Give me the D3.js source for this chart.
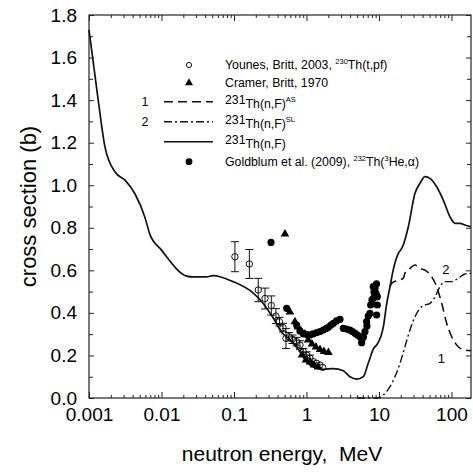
<!DOCTYPE html>
<html>
<head>
<meta charset="utf-8">
<script src="https://cdn.jsdelivr.net/npm/d3@7"></script>
<style>
body { margin: 0; background: #fff; }
text { font-family: Helvetica, Arial, "Liberation Sans", sans-serif; fill: #000; }
</style>
</head>
<body>
<div id="chart"></div>
<script>
var margin = {top: 15, right: 2, bottom: 77, left: 89}
var width = 473 - margin.left - margin.right
var height = 475 - margin.top - margin.bottom

// 231Th(n,F) total
var totalE  = [0.001, 0.00134, 0.00166, 0.00229, 0.00314, 0.0043, 0.0059, 0.0069, 0.01, 0.0223, 0.0272, 0.042, 0.051, 0.097, 0.183, 0.245, 0.36, 0.45, 0.59, 0.81, 1.12, 1.71, 2.34, 3.22, 3.98, 4.92, 6.07, 7.11, 8.5, 9.3, 11.5, 12.8, 14.2, 15.7, 18.5, 20.6, 21.6, 25.4, 31.4, 36.8, 43.1, 50.5, 62.5, 77.1, 95.3, 112, 131, 153, 186]
var totalXS = [1.73, 1.40, 1.18, 1.062, 1.024, 0.96, 0.85, 0.77, 0.695, 0.573, 0.569, 0.569, 0.575, 0.547, 0.494, 0.45, 0.367, 0.31, 0.275, 0.218, 0.155, 0.135, 0.138, 0.128, 0.10, 0.089, 0.10, 0.163, 0.235, 0.249, 0.335, 0.445, 0.523, 0.601, 0.680, 0.703, 0.719, 0.805, 0.962, 1.009, 1.040, 1.032, 0.993, 0.930, 0.852, 0.821, 0.821, 0.813, 0.805]

// 231Th(n,F)^AS
var asE  = [14.2, 15.0, 17.5, 21.6, 22.8, 25.4, 31.4, 36.8, 43.1, 53.3, 62.5, 73.3, 85.9, 100.7, 124, 153, 186]
var asXS = [0.523, 0.539, 0.551, 0.5625, 0.586, 0.601, 0.625, 0.609, 0.601, 0.570, 0.523, 0.445, 0.351, 0.288, 0.241, 0.2256, 0.222]

// 231Th(n,F)^SL
var slE  = [5.0, 9.8, 12.1, 14.2, 16.6, 19.5, 22.8, 26.8, 31.4, 36.8, 43.1, 50.5, 59.2, 69.3, 81.3, 100.7, 124, 153, 186]
var slXS = [0, 0, 0.022, 0.053, 0.10, 0.163, 0.241, 0.320, 0.382, 0.4215, 0.437, 0.445, 0.476, 0.523, 0.547, 0.547, 0.5625, 0.583, 0.586]

// Younes, Britt 2003
var younesE   = [0.103, 0.163, 0.216, 0.268, 0.327, 0.379, 0.424, 0.474, 0.521, 0.574, 0.641, 0.728, 0.813, 0.903, 1.007, 1.117, 1.24, 1.38, 1.53, 1.67]
var younesXS  = [0.664, 0.630, 0.5075, 0.4676, 0.4347, 0.385, 0.3586, 0.331, 0.28, 0.288, 0.276, 0.265, 0.249, 0.218, 0.202, 0.187, 0.171, 0.163, 0.155, 0.144]
var younesErr = [0.0705, 0.068, 0.055, 0.049, 0.045, 0.035, 0.02, 0.02, 0.047, 0.02, 0.02, 0.02, 0.02, 0.015, 0.015, 0.015, 0, 0, 0, 0]

// Cramer, Britt 1970
var cramerE  = [0.505, 0.591, 0.693, 0.763, 0.84, 0.953, 1.05, 1.19, 1.35, 1.535, 1.74, 2.01, 0.867, 0.985, 1.117, 1.27, 1.44]
var cramerXS = [0.771, 0.404, 0.3585, 0.334, 0.315, 0.301, 0.2725, 0.254, 0.24, 0.228, 0.2185, 0.214, 0.202, 0.179, 0.169, 0.155, 0.146]

// Goldblum et al. 2009
var goldE  = [0.324, 0.533, 0.733, 0.813, 0.903, 1.016, 1.117, 1.23, 1.383, 1.535, 1.706, 1.858, 2.0, 2.178, 2.344, 2.594, 2.897, 3.22, 3.565, 3.98, 4.31, 4.67, 5.05, 5.47, 5.77, 6.11, 6.41, 6.76, 7.11, 7.51, 7.68, 8.0, 8.34, 8.53, 8.81, 9.1, 9.48, 9.29, 9.48, 8.34, 9.25, 6.82, 5.83]
var goldXS = [0.731, 0.4215, 0.343, 0.315, 0.301, 0.298, 0.296, 0.301, 0.307, 0.3125, 0.3195, 0.3266, 0.332, 0.343, 0.351, 0.362, 0.370, 0.3275, 0.324, 0.3195, 0.3125, 0.304, 0.296, 0.288, 0.260, 0.2866, 0.3115, 0.3585, 0.385, 0.398, 0.437, 0.4605, 0.4685, 0.498, 0.5155, 0.492, 0.437, 0.39, 0.476, 0.523, 0.536, 0.338, 0.277]

var xTicks = [0.001, 0.01, 0.1, 1, 10, 100]
var xTickLabels = ['0.001', '0.01', '0.1', '1', '10', '100']
var yTicks = [0, 0.2, 0.4, 0.6, 0.8, 1.0, 1.2, 1.4, 1.6, 1.8]
var yMinor = [0.1, 0.3, 0.5, 0.7, 0.9, 1.1, 1.3, 1.5, 1.7]

var curveLabels = [{t: '1', e: 72.8, xs: 0.188}, {t: '2', e: 84, xs: 0.604}]

var svg = d3.select('#chart').append('svg')
            .attr('width', width + margin.left + margin.right)
            .attr('height', height + margin.top + margin.bottom)
            .append('g')
              .attr('transform', 'translate(' + margin.left + ',' + margin.top + ')')

var x = d3.scaleLog().domain([0.001, 186]).range([0, width])
var y = d3.scaleLinear().domain([0, 1.8]).range([height, 0])

var xMinor = x.ticks().filter((d) => xTicks.indexOf(d) < 0 && d < 186)

function styleAxis(g) {
  g.select('.domain').remove()
  g.selectAll('line').attr('stroke', '#222').attr('stroke-width', 1)
  g.attr('font-family', null).attr('font-size', null)
  g.selectAll('text').attr('font-size', 19).attr('fill', '#000')
}

// bottom
svg.append('g').attr('transform', 'translate(0,' + height + ')')
  .call(d3.axisBottom(x).tickValues(xTicks).tickFormat((d, i) => xTickLabels[i]).tickSizeInner(-6).tickSizeOuter(0).tickPadding(10))
  .call(styleAxis)
svg.append('g').attr('transform', 'translate(0,' + height + ')')
  .call(d3.axisBottom(x).tickValues(xMinor).tickFormat('').tickSizeInner(-3).tickSizeOuter(0))
  .call(styleAxis)
// top
svg.append('g')
  .call(d3.axisTop(x).tickValues(xTicks).tickFormat('').tickSizeInner(-6).tickSizeOuter(0))
  .call(styleAxis)
svg.append('g')
  .call(d3.axisTop(x).tickValues(xMinor).tickFormat('').tickSizeInner(-3).tickSizeOuter(0))
  .call(styleAxis)
// left
svg.append('g')
  .call(d3.axisLeft(y).tickValues(yTicks).tickFormat(d3.format('.1f')).tickSizeInner(-5).tickSizeOuter(0).tickPadding(12))
  .call(styleAxis)
svg.append('g')
  .call(d3.axisLeft(y).tickValues(yMinor).tickFormat('').tickSizeInner(-4).tickSizeOuter(0))
  .call(styleAxis)
// right
svg.append('g').attr('transform', 'translate(' + width + ',0)')
  .call(d3.axisRight(y).tickValues(yTicks).tickFormat('').tickSizeInner(-5).tickSizeOuter(0))
  .call(styleAxis)
svg.append('g').attr('transform', 'translate(' + width + ',0)')
  .call(d3.axisRight(y).tickValues(yMinor).tickFormat('').tickSizeInner(-4).tickSizeOuter(0))
  .call(styleAxis)

svg.append('rect')
  .attr('width', width).attr('height', height)
  .attr('fill', 'none').attr('stroke', '#222').attr('stroke-width', 1.2)

// axis titles
svg.append('text')
  .attr('x', width / 2 + 2).attr('y', height + 63)
  .attr('text-anchor', 'middle').attr('font-size', 21)
  .text('neutron energy,\u00a0 MeV')
svg.append('text')
  .attr('transform', 'translate(-53,' + (height / 2) + ') rotate(-90)')
  .attr('text-anchor', 'middle').attr('font-size', 22)
  .text('cross section (b)')

var line = d3.line()
  .x((d) => x(d[0]))
  .y((d) => y(d[1]))
  .curve(d3.curveMonotoneX)

svg.append('path').datum(d3.zip(slE, slXS))
  .attr('d', line).attr('fill', 'none').attr('stroke', '#111').attr('stroke-width', 1.4)
  .attr('stroke-dasharray', '8,3,2,3')
svg.append('path').datum(d3.zip(asE, asXS))
  .attr('d', line).attr('fill', 'none').attr('stroke', '#111').attr('stroke-width', 1.6)
  .attr('stroke-dasharray', '9,5')
svg.append('path').datum(d3.zip(totalE, totalXS))
  .attr('d', line).attr('fill', 'none').attr('stroke', '#111').attr('stroke-width', 1.7)

// error bars + open circles
var younes = d3.zip(younesE, younesXS, younesErr)
var bars = svg.append('g').attr('stroke', '#111').attr('stroke-width', 1)
younes.filter((d) => d[2] > 0).forEach((d) => {
  var cx = x(d[0])
  bars.append('line').attr('x1', cx).attr('x2', cx).attr('y1', y(d[1] - d[2])).attr('y2', y(d[1] + d[2]))
  bars.append('line').attr('x1', cx - 4).attr('x2', cx + 4).attr('y1', y(d[1] - d[2])).attr('y2', y(d[1] - d[2]))
  bars.append('line').attr('x1', cx - 4).attr('x2', cx + 4).attr('y1', y(d[1] + d[2])).attr('y2', y(d[1] + d[2]))
})

svg.append('g').selectAll('circle')
  .data(younes).enter()
    .append('circle')
    .attr('cx', (d) => x(d[0])).attr('cy', (d) => y(d[1])).attr('r', 3.2)
    .attr('fill', 'none').attr('stroke', '#111').attr('stroke-width', 1)

var tri = d3.symbol().type(d3.symbolTriangle).size(32)
svg.append('g').selectAll('path')
  .data(d3.zip(cramerE, cramerXS)).enter()
    .append('path')
    .attr('d', tri)
    .attr('transform', (d) => 'translate(' + x(d[0]) + ',' + y(d[1]) + ')')
    .attr('fill', '#000')

svg.append('g').selectAll('circle')
  .data(d3.zip(goldE, goldXS)).enter()
    .append('circle')
    .attr('cx', (d) => x(d[0])).attr('cy', (d) => y(d[1])).attr('r', 3.6)
    .attr('fill', '#000')

svg.append('g').selectAll('text')
  .data(curveLabels).enter()
    .append('text')
    .attr('x', (d) => x(d.e)).attr('y', (d) => y(d.xs))
    .attr('dy', '0.35em').attr('text-anchor', 'middle').attr('font-size', 13)
    .text((d) => d.t)

// legend
var legend = d3.select('svg').append('g')
var lx1 = 164, lx2 = 213, mx = 189, tx = 225, fs = 12.3

function richText(parts, xPos, yPos) {
  var t = legend.append('text').attr('x', xPos).attr('y', yPos).attr('font-size', fs)
  var shift = 0
  parts.forEach((p) => {
    var s = p.sup ? -5.5 : (p.up ? -3.5 : 0)
    t.append('tspan').attr('dy', s - shift).attr('font-size', p.sup ? 7.5 : fs).text(p.t)
    shift = s
  })
}

legend.append('circle').attr('cx', mx).attr('cy', 65).attr('r', 2.6)
  .attr('fill', 'none').attr('stroke', '#111').attr('stroke-width', 1)
richText([{t: 'Younes, Britt, 2003, '}, {t: '230', sup: true}, {t: 'Th(t,pf)'}], tx, 69.3)

legend.append('path').attr('d', d3.symbol().type(d3.symbolTriangle).size(28))
  .attr('transform', 'translate(' + mx + ',83)').attr('fill', '#000')
richText([{t: 'Cramer, Britt, 1970'}], tx, 87.3)

var rows = [
  {y: 101.7, dash: '9,5', label: '1', sup: 'AS'},
  {y: 121.7, dash: '8,3,2,3', label: '2', sup: 'SL'},
  {y: 141.7, dash: null, label: null, sup: null}
]
rows.forEach((r) => {
  legend.append('line').attr('x1', lx1).attr('x2', lx2).attr('y1', r.y).attr('y2', r.y)
    .attr('stroke', '#111').attr('stroke-width', 1.5).attr('stroke-dasharray', r.dash)
  if (r.label) {
    legend.append('text').attr('x', 145).attr('y', r.y + 4.5).attr('text-anchor', 'middle')
      .attr('font-size', 12.5).text(r.label)
  }
  var parts = [{t: '231', up: true}, {t: 'Th(n,F)'}]
  if (r.sup) parts.push({t: r.sup, sup: true})
  richText(parts, tx, r.y + 6)
})

legend.append('circle').attr('cx', mx).attr('cy', 161.7).attr('r', 3.4).attr('fill', '#000')
richText([{t: 'Goldblum et al. (2009), '}, {t: '232', sup: true}, {t: 'Th('}, {t: '3', sup: true}, {t: 'He,α)'}], tx, 166)
</script>
</body>
</html>
